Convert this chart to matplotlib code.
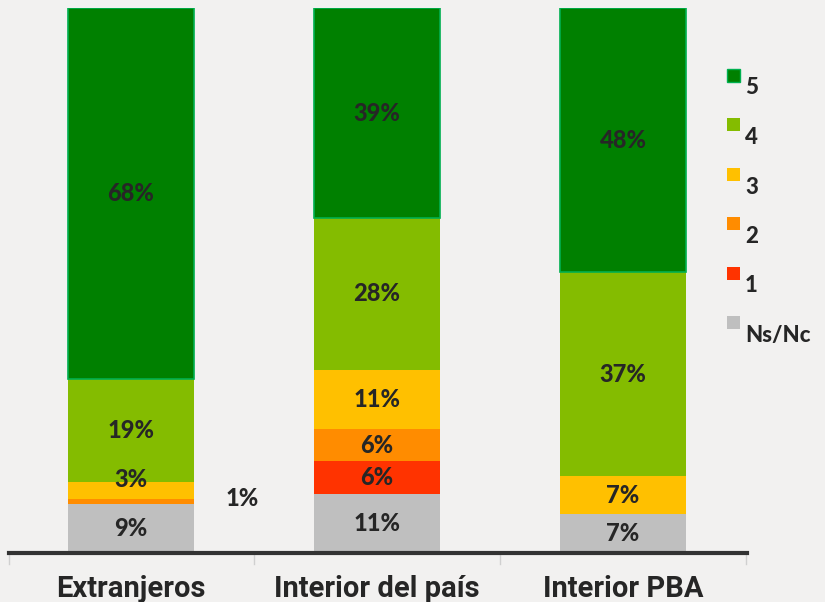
import matplotlib.pyplot as plt
from matplotlib.patches import Rectangle
import numpy as np

# Data (percent per category)
categories = ['Extranjeros', 'Interior del país', 'Interior PBA']
levels = ['Ns/Nc', '1', '2', '3', '4', '5']
values = {
    'Ns/Nc': [9, 11, 7],
    '1': [0, 6, 0],
    '2': [1, 6, 0],
    '3': [3, 11, 7],
    '4': [19, 28, 37],
    '5': [68, 39, 48],
}
colors = {
    'Ns/Nc': '#BFBFBF',
    '1': '#FF3300',
    '2': '#FF8C00',
    '3': '#FFC000',
    '4': '#84BC00',
    '5': '#008000',
}

bg = '#F2F1F0'
txt = '#262626'
plt.rcParams['font.family'] = ['Lato', 'DejaVu Sans']

fig = plt.figure(figsize=(8.25, 6.02), dpi=100, facecolor=bg)
ax = fig.add_axes([9 / 825, 1 - 553 / 602, (747 - 9) / 825, (553 - 8) / 602])
ax.set_facecolor(bg)

x = np.arange(len(categories))
totals = np.sum([values[k] for k in levels], axis=0)
bottom = np.zeros(len(categories))
width = 0.516

for lev in levels:
    v = np.array(values[lev], dtype=float)
    h = v / totals
    edge = '#00B050' if lev == '5' else 'none'
    ax.bar(x, h, width, bottom=bottom, color=colors[lev], edgecolor=edge,
           linewidth=1.2 if lev == '5' else 0)
    for i in range(len(categories)):
        if v[i] <= 0:
            continue
        yc = bottom[i] + h[i] / 2
        xc = x[i]
        if lev == '2' and categories[i] == 'Extranjeros':
            # small segment: label sits to the right of the bar
            xc = x[i] + 0.45
            yc = bottom[i] + 0.01
        elif lev == '3' and categories[i] == 'Extranjeros':
            yc += 0.02
        ax.text(xc, yc, f'{int(v[i])}%', ha='center', va='center',
                fontsize=17, fontweight=900, color=txt)
    bottom += h

ax.set_xlim(-0.496, 2.504)
ax.set_ylim(0, 1)
for s in ['top', 'right', 'left']:
    ax.spines[s].set_visible(False)
ax.spines['bottom'].set_color('#333333')
ax.spines['bottom'].set_linewidth(3)
ax.set_yticks([])
ax.set_xticks(x)
ax.set_xticklabels(categories, fontsize=21, fontweight='bold', color=txt,
                   family=['Roboto', 'DejaVu Sans'])
ax.tick_params(axis='x', length=0, pad=16)
for b in [-0.496, 0.5, 1.5, 2.5]:
    ax.axvline(b, ymin=-0.02, ymax=0, color='#D0D0D0', lw=1, clip_on=False)

# legend, top to bottom
for j, lev in enumerate(levels[::-1]):
    yc = 75 + j * 49.5
    fig.add_artist(Rectangle((727 / 825, 1 - (yc + 6.5) / 602), 13 / 825, 13 / 602,
                             transform=fig.transFigure, facecolor=colors[lev],
                             edgecolor='#00B050' if lev == '5' else 'none', lw=1))
    fig.text(745 / 825, 1 - (yc + 13) / 602, lev, ha='left', va='center',
             fontsize=16, fontweight=900, color=txt)

fig.savefig('out.png', dpi=100, facecolor=bg)
